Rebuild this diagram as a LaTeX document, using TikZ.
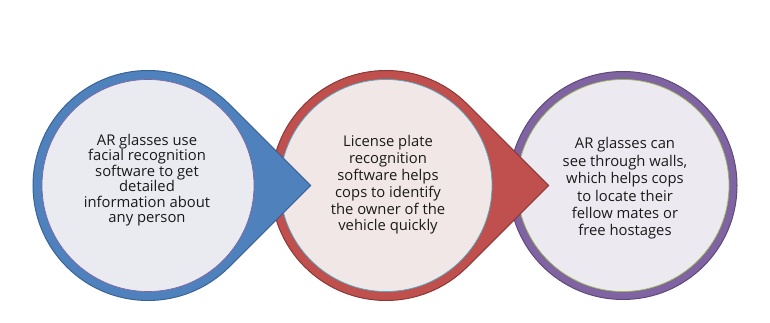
\documentclass[tikz,border=0pt]{standalone}
\usepackage{fontspec}
\setmainfont{Open Sans}
\usetikzlibrary{calc}
\definecolor{bluefill}{HTML}{4F81BD}
\definecolor{blueline}{HTML}{3A6399}
\definecolor{redfill}{HTML}{C0504D}
\definecolor{redline}{HTML}{8C3836}
\definecolor{purpfill}{HTML}{8064A2}
\definecolor{purpline}{HTML}{5E4A7A}
\definecolor{blueinner}{HTML}{E9EBF1}
\definecolor{redinner}{HTML}{F2E7E7}
\definecolor{purpinner}{HTML}{ECEAF0}
\definecolor{accaqua}{HTML}{4BACC6}
\definecolor{accgreen}{HTML}{9BBB59}
\definecolor{txtcol}{HTML}{1A1A1A}
\tikzset{
  inner/.style={circle, minimum size=212pt, inner sep=0pt, line width=0.7pt},
  txt/.style={align=center, text=txtcol, inner sep=0pt, font=\fontsize{14.8}{15.5}\selectfont},
}
\begin{document}
\begin{tikzpicture}[x=1pt,y=1pt]
\useasboundingbox (0,0) rectangle (770,323);
% centres and tips
\coordinate (cB) at (148,137.5);
\coordinate (cR) at (386,137.5);
\coordinate (cP) at (623,137.5);
\coordinate (tipB) at ($(cB)+(162.6,0)$);
\coordinate (tipR) at ($(cR)+(162.6,0)$);
% purple
\draw[fill=purpfill, draw=purpline, line width=1pt] (cP) circle[radius=114pt];
\node[inner, fill=purpinner, draw=accgreen] (iP) at (cP) {};
\node[txt, font=\fontsize{14.8}{17.4}\selectfont] (tP) at (625,134.5) {AR glasses can\\see through walls,\\which helps cops\\to locate their\\fellow mates or\\free hostages};
% red
\draw[fill=redfill, draw=redline, line width=1pt, line join=miter]
  (tipR) -- ($(cR)+(45:115pt)$) arc[start angle=45, end angle=315, radius=115pt] -- cycle;
\node[inner, fill=redinner, draw=accaqua] (iR) at (cR) {};
\node[txt, font=\fontsize{14.8}{16.8}\selectfont] (tR) at (388,138) {License plate\\recognition\\software helps\\cops to identify\\the owner of the\\vehicle quickly};
% blue
\draw[fill=bluefill, draw=blueline, line width=1pt, line join=miter]
  (tipB) -- ($(cB)+(45:115pt)$) arc[start angle=45, end angle=315, radius=115pt] -- cycle;
\node[inner, fill=blueinner, draw=purpfill] (iB) at (cB) {};
\node[txt] (tB) at (147,143) {AR glasses use\\facial recognition\\software to get\\detailed\\information about\\any person};
\end{tikzpicture}
\end{document}
